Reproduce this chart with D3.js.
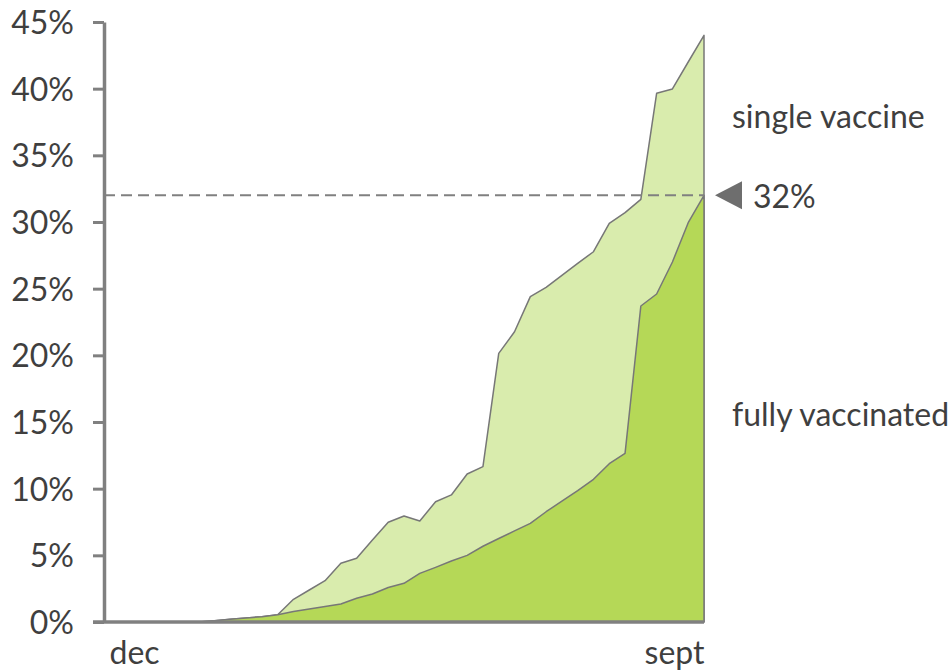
<!DOCTYPE html>
<html>
<head>
<meta charset="utf-8">
<script src="https://cdn.jsdelivr.net/npm/d3@7"></script>
<style>
  html, body { margin: 0; padding: 0; background: #fff; }
  svg { display: block; font-family: Lato, "Open Sans", sans-serif; }
</style>
</head>
<body>
<svg id="chart" width="952" height="670"></svg>
<script>
// weekly observations, dec -> sept (39 points)
const weeks = d3.range(39);
const atLeastOneDose = [0,0,0,0,0,0,0,0.1,0.2,0.3,0.4,0.55,1.7,2.4,3.1,4.4,4.78,6.15,7.48,7.95,7.58,9.02,9.53,11.1,11.65,20.15,21.77,24.4,25.1,26.0,26.9,27.77,29.9,30.7,31.7,39.65,39.98,42.0,44.0];
const fullyVaccinated = [0,0,0,0,0,0,0,0.1,0.2,0.3,0.4,0.55,0.79,0.98,1.16,1.35,1.78,2.1,2.59,2.9,3.65,4.1,4.58,5.0,5.68,6.26,6.83,7.4,8.27,9.07,9.86,10.7,11.87,12.65,23.7,24.6,27.0,29.95,32.0];
const yTicks = [0,5,10,15,20,25,30,35,40,45];
const xLabels = [{i: 0, label: "dec", anchor: "start"}, {i: 38, label: "sept", anchor: "end"}];
const seriesLabels = [{label: "single vaccine", value: 37.9}, {label: "fully vaccinated", value: 15.6}];
const marker = {value: 32, label: "32%"};

const svg = d3.select("#chart");
const x = d3.scaleLinear().domain([0, 38]).range([104, 704]);
const y = d3.scaleLinear().domain([0, 45]).range([622, 22]);

const axisColor = "#808080";
const textColor = "#3f3f3f";
const fontSize = "32px";

// areas
const areaTop = d3.area().x((d, i) => x(weeks[i])).y0(y(0)).y1(d => y(d));
svg.append("path").datum(atLeastOneDose)
  .attr("d", areaTop).attr("fill", "#d9ecad")
  .attr("stroke", "#777").attr("stroke-width", 1.5).attr("stroke-linejoin", "round");
svg.append("path").datum(fullyVaccinated)
  .attr("d", areaTop).attr("fill", "#b5d857")
  .attr("stroke", "#777").attr("stroke-width", 1.5).attr("stroke-linejoin", "round");

// dashed reference line
svg.append("line")
  .attr("x1", x(0)).attr("x2", x(38))
  .attr("y1", y(marker.value)).attr("y2", y(marker.value))
  .attr("stroke", axisColor).attr("stroke-width", 2).attr("stroke-dasharray", "11,6");

// y axis
const yAxis = d3.axisLeft(y).tickValues(yTicks).tickSize(11).tickPadding(19)
  .tickFormat(d => d + "%").tickSizeOuter(0);
const gy = svg.append("g").attr("transform", `translate(${x(0)},0)`).call(yAxis);
gy.select(".domain").attr("stroke", axisColor).attr("stroke-width", 3.5);
gy.selectAll(".tick line").attr("stroke", axisColor).attr("stroke-width", 3);
gy.selectAll(".tick text").attr("fill", textColor).style("font-size", fontSize)
  .style("font-family", "Lato, sans-serif").attr("dy", "0.36em");

// x axis
const xAxis = d3.axisBottom(x).tickValues(xLabels.map(d => d.i)).tickSize(0).tickPadding(19)
  .tickFormat(i => xLabels.find(d => d.i === i).label).tickSizeOuter(0);
const gx = svg.append("g").attr("transform", `translate(0,${y(0)})`).call(xAxis);
gx.select(".domain").remove();
gx.selectAll(".tick text").attr("fill", textColor).style("font-size", fontSize)
  .style("font-family", "Lato, sans-serif")
  .attr("text-anchor", i => xLabels.find(d => d.i === i).anchor)
  .attr("dx", i => i === 0 ? 5 : 0);
svg.append("line")
  .attr("x1", x(0) - 11).attr("x2", x(38))
  .attr("y1", y(0)).attr("y2", y(0))
  .attr("stroke", axisColor).attr("stroke-width", 3.5);

// marker triangle + label
const mx = x(38) + 11, my = y(marker.value);
svg.append("path")
  .attr("d", `M${mx},${my} L${mx + 27},${my - 14} L${mx + 27},${my + 14} Z`)
  .attr("fill", "#6e6e6e");
svg.append("text").attr("x", mx + 38).attr("y", my + 1).attr("dy", "0.36em")
  .attr("fill", textColor).style("font-size", fontSize).text(marker.label);

// series labels
svg.selectAll(".slabel").data(seriesLabels).enter().append("text")
  .attr("class", "slabel")
  .attr("x", 732).attr("y", d => y(d.value)).attr("dy", "0.36em")
  .attr("fill", textColor).style("font-size", fontSize).text(d => d.label);
</script>
</body>
</html>
